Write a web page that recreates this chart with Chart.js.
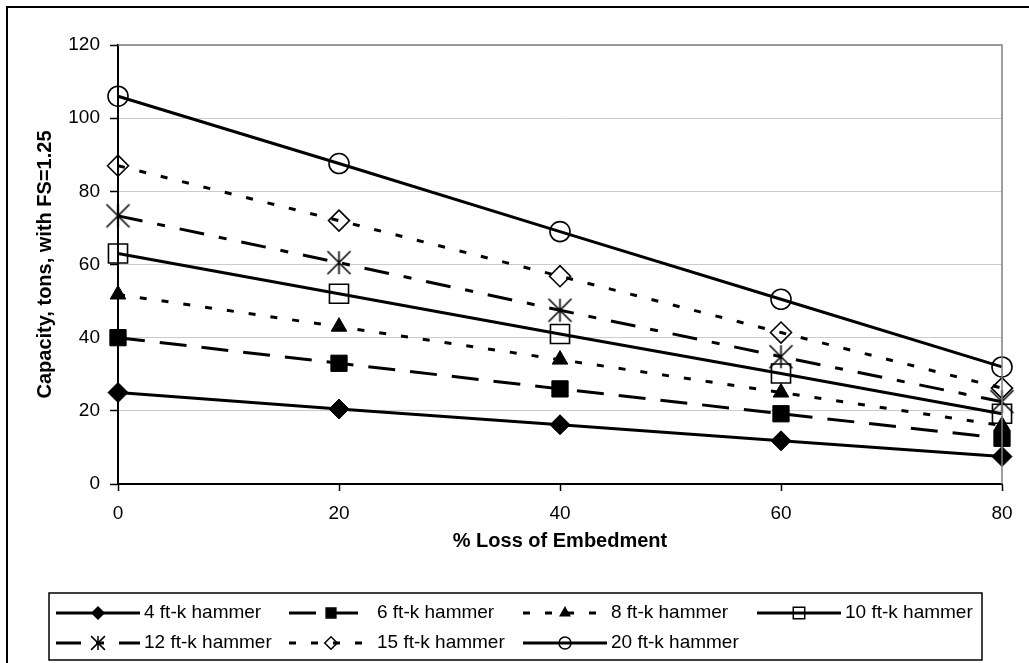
<!DOCTYPE html>
<html>
<head>
<meta charset="utf-8">
<title>Capacity vs. Loss of Embedment</title>
<script src="https://cdn.jsdelivr.net/npm/chart.js@4.4.0/dist/chart.umd.min.js"></script>
<style>
  html, body { margin: 0; padding: 0; background: #fff; }
  #wrap { position: relative; width: 1029px; height: 663px; }
</style>
</head>
<body>
<div id="wrap"><canvas id="capacityChart"></canvas></div>
<script>
const FONT = 'Arial, "Liberation Sans", sans-serif';

// % loss of embedment (x) and axis ticks
const LOSS_PCT = [0, 20, 40, 60, 80];
const X_TICKS = [0, 20, 40, 60, 80];
const Y_TICKS = [0, 20, 40, 60, 80, 100, 120];

// capacity in tons (FS = 1.25) for each hammer energy
const HAMMER_LABELS = [
  "4 ft-k hammer", "6 ft-k hammer", "8 ft-k hammer", "10 ft-k hammer",
  "12 ft-k hammer", "15 ft-k hammer", "20 ft-k hammer",
];
const CAP_4 = [25, 20.5, 16.2, 11.8, 7.5];
const CAP_6 = [40, 33, 26, 19.2, 12.5];
const CAP_8 = [51.8, 43, 34, 25, 16];
const CAP_10 = [63, 52, 41, 30.2, 19.2];
const CAP_12 = [73.3, 60.5, 47.5, 34.8, 22.5];
const CAP_15 = [87, 72, 56.8, 41.4, 26.2];
const CAP_20 = [106, 87.6, 69, 50.5, 32];
const CAPACITIES = [CAP_4, CAP_6, CAP_8, CAP_10, CAP_12, CAP_15, CAP_20];

// line / marker look per series
const SERIES_STYLES = [
  { dash: [], marker: "rectRot", radius: 10, filled: true },
  { dash: [27, 15], marker: "rect", radius: 11.5, filled: true },
  { dash: [7, 15], marker: "triangle", radius: 9, filled: true },
  { dash: [], marker: "rect", radius: 13.5, filled: false },
  { dash: [25, 15, 8, 15], marker: "asterisk", radius: 11.5, filled: false },
  { dash: [7, 15], marker: "rectRot", radius: 10.5, filled: false },
  { dash: [], marker: "circle", radius: 10, filled: false },
];

const LEGEND_BOX = { left: 49, top: 593, right: 982, bottom: 660 };
const LEGEND_TEXT_X = [144, 377, 611, 845];
const LEGEND_ROW_Y = [613, 643];

function drawMarker(ctx, marker, x, y, r, filled, lineWidth) {
  ctx.save();
  ctx.lineWidth = lineWidth;
  ctx.strokeStyle = "#000";
  ctx.fillStyle = "#000";
  ctx.setLineDash([]);
  ctx.beginPath();
  if (marker === "circle") {
    ctx.arc(x, y, r, 0, Math.PI * 2);
  } else if (marker === "rect") {
    const h = r * Math.SQRT1_2;
    ctx.rect(x - h, y - h, 2 * h, 2 * h);
  } else if (marker === "rectRot") {
    ctx.moveTo(x - r, y);
    ctx.lineTo(x, y - r);
    ctx.lineTo(x + r, y);
    ctx.lineTo(x, y + r);
    ctx.closePath();
  } else if (marker === "triangle") {
    ctx.moveTo(x, y - r);
    ctx.lineTo(x + 0.866 * r, y + 0.5 * r);
    ctx.lineTo(x - 0.866 * r, y + 0.5 * r);
    ctx.closePath();
  } else if (marker === "asterisk") {
    ctx.moveTo(x, y - r);
    ctx.lineTo(x, y + r);
    ctx.moveTo(x - r, y - r);
    ctx.lineTo(x + r, y + r);
    ctx.moveTo(x + r, y - r);
    ctx.lineTo(x - r, y + r);
    ctx.stroke();
    ctx.restore();
    return;
  }
  if (filled) ctx.fill();
  ctx.stroke();
  ctx.restore();
}

// six-spoke asterisk used as a point image
function makeAsterisk(r) {
  const size = Math.ceil(2 * r + 4);
  const canvas = document.createElement("canvas");
  canvas.width = size;
  canvas.height = size;
  drawMarker(canvas.getContext("2d"), "asterisk", size / 2, size / 2, r, false, 1.6);
  return canvas;
}

function buildDatasets() {
  return CAPACITIES.map((values, i) => {
    const style = SERIES_STYLES[i];
    const pointStyle = style.marker === "asterisk" ? makeAsterisk(style.radius) : style.marker;
    return {
      label: HAMMER_LABELS[i],
      data: LOSS_PCT.map((x, k) => ({ x, y: values[k] })),
      borderColor: "#000",
      borderWidth: 3,
      borderDash: style.dash,
      pointStyle,
      pointRadius: style.radius,
      pointBorderWidth: style.filled ? 1 : 1.6,
      pointBorderColor: "#000",
      pointBackgroundColor: style.filled ? "#000" : "rgba(0,0,0,0)",
      tension: 0,
      clip: false,
      order: CAPACITIES.length - i,
    };
  });
}

// outer border, grey plot frame and the boxed legend
const frameAndLegend = {
  id: "frameAndLegend",
  afterDraw(chart) {
    const { ctx, chartArea } = chart;
    ctx.save();

    ctx.strokeStyle = "#808080";
    ctx.lineWidth = 1.5;
    ctx.beginPath();
    ctx.moveTo(chartArea.left, chartArea.top);
    ctx.lineTo(chartArea.right, chartArea.top);
    ctx.lineTo(chartArea.right, chartArea.bottom);
    ctx.stroke();

    ctx.strokeStyle = "#000";
    ctx.lineWidth = 2;
    ctx.beginPath();
    ctx.moveTo(7, chart.height);
    ctx.lineTo(7, 7);
    ctx.lineTo(chart.width, 7);
    ctx.stroke();

    ctx.lineWidth = 1.5;
    ctx.strokeRect(LEGEND_BOX.left, LEGEND_BOX.top,
      LEGEND_BOX.right - LEGEND_BOX.left, LEGEND_BOX.bottom - LEGEND_BOX.top);

    ctx.font = `19px ${FONT}`;
    ctx.textBaseline = "middle";
    ctx.fillStyle = "#000";
    chart.data.datasets.forEach((ds, i) => {
      const style = SERIES_STYLES[i];
      const col = i < 4 ? i : i - 4;
      const row = i < 4 ? 0 : 1;
      const textX = LEGEND_TEXT_X[col];
      const y = LEGEND_ROW_Y[row];
      const x0 = textX - 88;
      const x1 = textX - 4;

      ctx.save();
      ctx.strokeStyle = "#000";
      ctx.lineWidth = 3;
      ctx.setLineDash(style.dash);
      ctx.beginPath();
      ctx.moveTo(x0, y);
      ctx.lineTo(x1, y);
      ctx.stroke();
      ctx.restore();

      drawMarker(ctx, style.marker, (x0 + x1) / 2, y, style.radius * 0.6, style.filled, 1.5);
      ctx.fillText(ds.label, textX, y);
    });

    ctx.restore();
  },
};

function makeChart() {
  const context = document.getElementById("capacityChart");
  return new Chart(context, {
    type: "line",
    data: { datasets: buildDatasets() },
    plugins: [frameAndLegend],
    options: {
      responsive: true,
      maintainAspectRatio: false,
      animation: false,
      layout: { padding: { left: 0, top: 45, right: 27, bottom: 99 } },
      plugins: {
        legend: { display: false },
        tooltip: { enabled: false },
      },
      scales: {
        x: {
          type: "linear",
          min: 0,
          max: 80,
          afterBuildTicks: (scale) => { scale.ticks = X_TICKS.map((value) => ({ value })); },
          afterFit: (scale) => { scale.height = 80; },
          grid: { drawOnChartArea: false, tickLength: 7, tickColor: "#000", tickWidth: 1.5 },
          border: { display: true, color: "#000", width: 2 },
          ticks: { color: "#000", padding: 11, maxRotation: 0, font: { family: FONT, size: 19 } },
          title: {
            display: true,
            text: "% Loss of Embedment",
            color: "#000",
            font: { family: FONT, size: 20, weight: "bold" },
            padding: { top: 0, bottom: 11 },
          },
        },
        y: {
          type: "linear",
          min: 0,
          max: 120,
          afterBuildTicks: (scale) => { scale.ticks = Y_TICKS.map((value) => ({ value })); },
          afterFit: (scale) => { scale.width = 118; },
          grid: { color: "#cccccc", lineWidth: 1, tickLength: 8, tickColor: "#000", tickWidth: 1.5 },
          border: { display: true, color: "#000", width: 2 },
          ticks: { color: "#000", padding: 10, font: { family: FONT, size: 19 } },
          title: {
            display: true,
            text: "Capacity, tons, with FS=1.25",
            color: "#000",
            font: { family: FONT, size: 20, weight: "bold" },
            padding: { top: 33, bottom: 0 },
          },
        },
      },
    },
  });
}

makeChart();
</script>
</body>
</html>
